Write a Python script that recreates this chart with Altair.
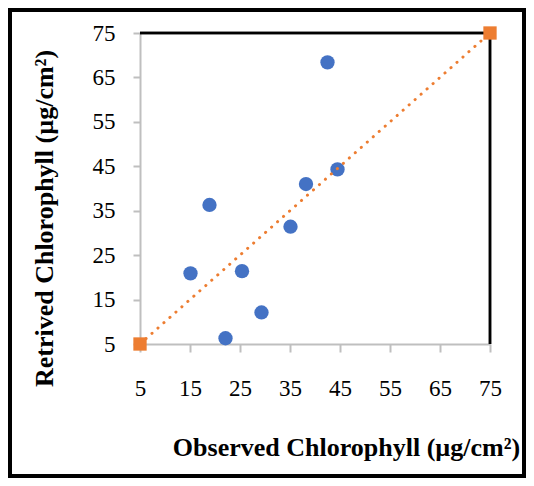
import altair as alt
import pandas as pd

# Data
observed = [42.5, 44.5, 38.2, 18.9, 35.1, 15.1, 25.4, 29.3, 22.1]
retrieved = [68.4, 44.3, 41.0, 36.3, 31.4, 20.9, 21.4, 12.1, 6.3]
line_x = [5, 75]
line_y = [5, 75]
ticks = [5, 15, 25, 35, 45, 55, 65, 75]

pts = pd.DataFrame({"obs": observed, "ret": retrieved})
one = pd.DataFrame({"obs": line_x, "ret": line_y})

FONT = "Liberation Serif"
GRAY = "#BFBFBF"

xscale = alt.Scale(domain=[5, 75], nice=False, zero=False)
yscale = alt.Scale(domain=[5, 75], nice=False, zero=False)

xaxis = alt.Axis(
    values=ticks, grid=False, labelFlush=False, labelOverlap=False,
    domainColor=GRAY, domainWidth=2, tickColor=GRAY, tickWidth=2, tickSize=8,
    labelFont=FONT, labelFontSize=23, labelColor="black",
    labelBaseline="alphabetic", labelPadding=43,
    title="Observed Chlorophyll (µg/cm²)",
    titleFont=FONT, titleFontSize=26, titleFontWeight="bold", titleColor="black",
    titleX=206, titleY=111, titleAlign="center", titleBaseline="alphabetic",
)
yaxis = alt.Axis(
    values=ticks, grid=False, labelFlush=False, labelOverlap=False,
    domainColor=GRAY, domainWidth=2, tickColor=GRAY, tickWidth=2, tickSize=7,
    labelFont=FONT, labelFontSize=23, labelColor="black",
    labelBaseline="middle", labelPadding=18,
    title="Retrived Chlorophyll (µg/cm²)",
    titleFont=FONT, titleFontSize=26, titleFontWeight="bold", titleColor="black",
    titleAngle=-90, titleX=-88, titleY=185, titleAlign="center", titleBaseline="alphabetic",
)

base_x = alt.X("obs:Q", scale=xscale, axis=xaxis)
base_y = alt.Y("ret:Q", scale=yscale, axis=yaxis)

# outer frame of the figure
frame = alt.Chart(one).mark_rect(filled=False, stroke="black", strokeWidth=4).encode(
    x=alt.value(-130), x2=alt.value(384), y=alt.value(-23), y2=alt.value(443)
)

top_rule = alt.Chart(one).mark_rule(color="black", strokeWidth=2.5).encode(
    x=alt.datum(5, scale=xscale), x2=alt.datum(75), y=alt.datum(75, scale=yscale)
)
right_rule = alt.Chart(one).mark_rule(color="black", strokeWidth=2.5).encode(
    x=alt.datum(75, scale=xscale), y=alt.datum(5, scale=yscale), y2=alt.datum(75)
)

points = alt.Chart(pts).mark_point(
    shape="circle", filled=True, size=205, color="#4472C4", opacity=1
).encode(x=base_x, y=base_y)

line = alt.Chart(one).mark_line(
    color="#ED7D31", strokeWidth=3, strokeDash=[0.1, 7.9], strokeCap="round"
).encode(x=base_x, y=base_y)

squares = alt.Chart(one).mark_point(
    shape="square", filled=True, size=177, color="#ED7D31", opacity=1
).encode(x=base_x, y=base_y)

chart = alt.layer(frame, top_rule, right_rule, points, line, squares).properties(
    width=350, height=311,
    autosize=alt.AutoSizeParams(type="none"),
    padding={"left": 132, "top": 25, "right": 36, "bottom": 134},
).configure_view(stroke=None).configure(background="white")

chart.save("out.html", embed_options={"renderer": "svg", "actions": False})
